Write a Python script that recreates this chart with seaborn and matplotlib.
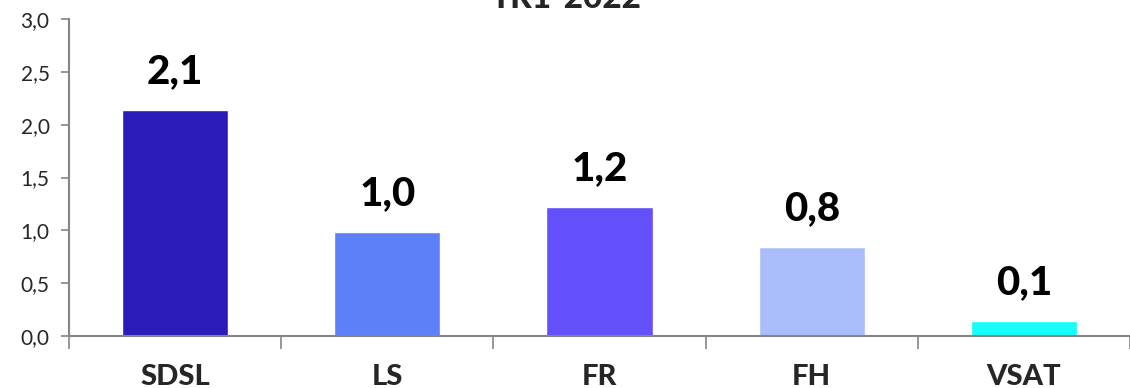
import matplotlib
matplotlib.use("Agg")
import matplotlib.pyplot as plt
import seaborn as sns
import pandas as pd

# data
categories = ["SDSL", "LS", "FR", "FH", "VSAT"]
values = [2.14, 0.98, 1.22, 0.84, 0.14]
colors = ["#2B1BB8", "#5B80F8", "#6450FA", "#A9BCFB", "#17FDFB"]
y_ticks = [0.0, 0.5, 1.0, 1.5, 2.0, 2.5, 3.0]
title = "TR1-2022"

sns.set_theme(style="white")
plt.rcParams["font.family"] = ["Lato", "DejaVu Sans"]

df = pd.DataFrame({"cat": categories, "val": values})

fig = plt.figure(figsize=(11.3, 3.88), dpi=100)
ax = fig.add_axes([69 / 1130, 1 - 336 / 388, 1 - 69 / 1130, (336 - 19) / 388])

sns.barplot(data=df, x="cat", y="val", hue="cat", palette=colors,
            width=0.5, legend=False, ax=ax, saturation=1)

# value labels above bars
for i, v in enumerate(values):
    ax.text(i, v + 0.19, f"{v:.1f}".replace(".", ","), ha="center", va="bottom",
            fontsize=29, fontweight="black", color="black")

ax.set_xlim(-0.5, 4.5)
ax.set_ylim(0, 3.0)
ax.set_yticks(y_ticks)
ax.set_yticklabels([f"{t:.1f}".replace(".", ",") for t in y_ticks], fontsize=15)
ax.set_xlabel("")
ax.set_ylabel("")

# category boundary ticks
ax.set_xticks([i - 0.5 for i in range(len(categories) + 1)], minor=True)
ax.tick_params(axis="x", which="minor", length=9, width=1.2, color="#868686",
               direction="out", bottom=True)
ax.tick_params(axis="x", which="major", length=0, pad=20)
ax.set_xticklabels(categories, fontsize=21, fontweight="black")
ax.tick_params(axis="y", length=6, width=1.2, color="#868686", direction="out",
               left=True, pad=8)

for side in ["top", "right"]:
    ax.spines[side].set_visible(False)
for side in ["left", "bottom"]:
    ax.spines[side].set_color("#868686")
    ax.spines[side].set_linewidth(1.5)

fig.text(566 / 1130, 1 - 13 / 388, title, ha="center", va="bottom",
         fontsize=24, fontweight="black")

fig.savefig("out.png", dpi=100)
